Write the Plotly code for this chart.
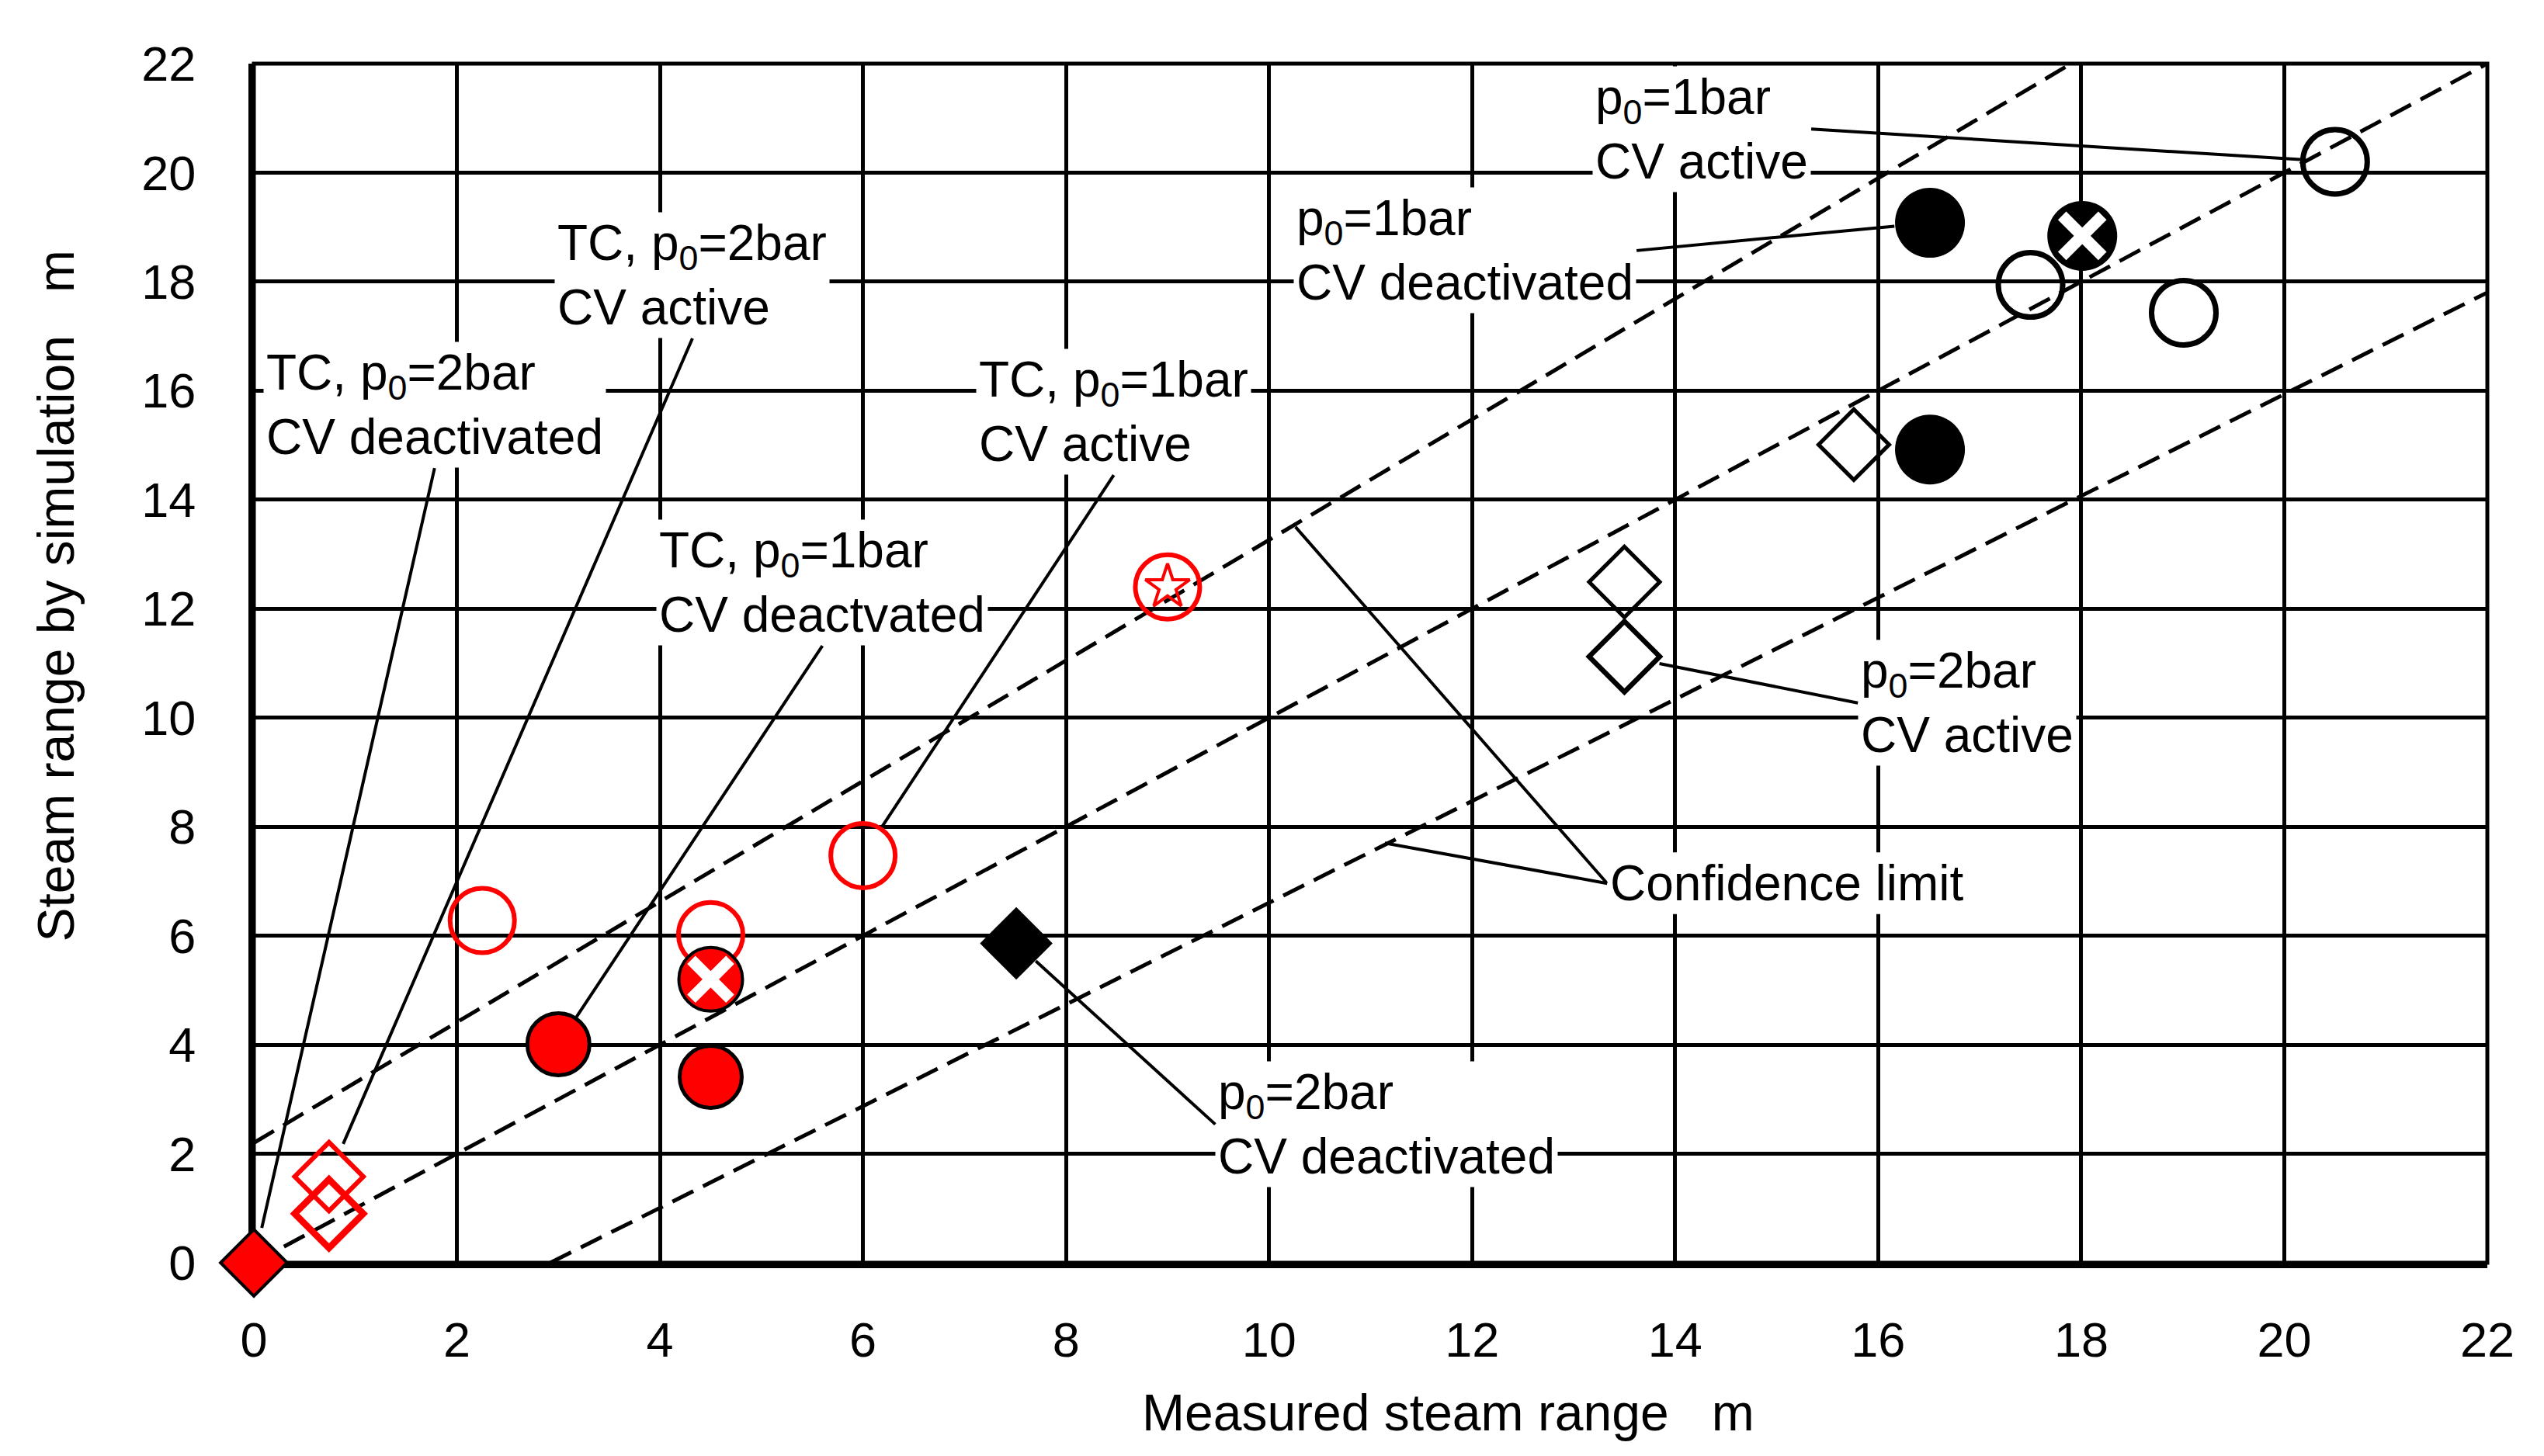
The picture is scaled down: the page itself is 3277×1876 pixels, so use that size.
import plotly.graph_objects as go

FONT = "Liberation Sans, Arial, Helvetica, sans-serif"
RED = "#ff0000"
BLACK = "#000000"
WHITE = "#ffffff"

# ---------------- data (measured steam range x, simulated steam range y) -----
# TC, p0=2bar, CV deactivated (red filled diamond)
tc2_deact_x = [0.0]
tc2_deact_y = [0.0]
# TC, p0=2bar, CV active (red open diamonds)
tc2_act_x = [0.74, 0.74]
tc2_act_y = [1.58, 0.90]
# TC, p0=1bar, CV active (red open circles)
tc1_act_x = [2.25, 4.5, 6.0, 9.0]
tc1_act_y = [6.28, 6.02, 7.47, 12.40]
# red point additionally marked with a star
tc_star_x = [9.0]
tc_star_y = [12.40]
# TC, p0=1bar, CV deactivated (red filled circles)
tc1_deact_x = [3.0, 4.5]
tc1_deact_y = [4.01, 3.41]
# red filled circle with white cross
tc_cross_x = [4.5]
tc_cross_y = [5.20]
# p0=2bar, CV deactivated (black filled diamond)
p2_deact_x = [7.51]
p2_deact_y = [5.86]
# p0=2bar, CV active (black open diamonds)
p2_act_x = [13.5, 13.5, 15.76]
p2_act_y = [12.49, 11.12, 15.01]
# p0=1bar, CV deactivated (black filled circles)
p1_deact_x = [16.51, 16.51]
p1_deact_y = [19.08, 14.92]
# black filled circle with white cross
p1_cross_x = [18.01]
p1_cross_y = [18.84]
# p0=1bar, CV active (black open circles)
p1_act_x = [17.5, 19.01, 20.5]
p1_act_y = [17.94, 17.43, 20.20]
# confidence limits (dashed)
conf_upper_x = [0.0, 17.9]
conf_upper_y = [2.2, 22.0]
conf_mid_x = [0.0, 22.0]
conf_mid_y = [0.0, 22.0]
conf_lower_x = [2.92, 22.0]
conf_lower_y = [0.0, 17.8]

tick_vals = [0, 2, 4, 6, 8, 10, 12, 14, 16, 18, 20, 22]
tick_text = [str(v) for v in tick_vals]

fig = go.Figure()

for cx, cy in [(conf_upper_x, conf_upper_y), (conf_mid_x, conf_mid_y), (conf_lower_x, conf_lower_y)]:
    fig.add_trace(go.Scatter(x=cx, y=cy, mode="lines",
                             line=dict(color=BLACK, width=5, dash="30px,14px"),
                             hoverinfo="skip", showlegend=False, cliponaxis=True))


def markers(x, y, symbol, color, size, lw=0, lc=BLACK):
    fig.add_trace(go.Scatter(
        x=x, y=y, mode="markers", cliponaxis=False, showlegend=False,
        marker=dict(symbol=symbol, color=color, size=size,
                    line=dict(width=lw, color=lc))))


# red series
markers(tc1_act_x, tc1_act_y, "circle-open", RED, 83, 6)
markers(tc_star_x, tc_star_y, "star-open", RED, 43, 4)
markers(tc2_act_x, tc2_act_y, "diamond-open", RED, 68, [6, 8.5])
markers(tc1_deact_x, tc1_deact_y, "circle", RED, 80, 5, BLACK)
markers(tc_cross_x, tc_cross_y, "circle", RED, 82, 4, BLACK)
markers(tc_cross_x, tc_cross_y, "x-thin-open", WHITE, 50, 15)
markers(tc2_deact_x, tc2_deact_y, "diamond", RED, 66, 4, BLACK)

# black series
markers(p2_deact_x, p2_deact_y, "diamond", BLACK, 72, 0)
markers(p2_act_x, p2_act_y, "diamond-open", BLACK, 70, [5, 6.5, 5])
markers(p1_act_x, p1_act_y, "circle-open", BLACK, 83, 7)
markers(p1_deact_x, p1_deact_y, "circle", BLACK, 90, 0)
markers(p1_cross_x, p1_cross_y, "circle", BLACK, 90, 0)
markers(p1_cross_x, p1_cross_y, "x-thin-open", WHITE, 52, 15)

# ---------------- annotations with leader lines ----------------
ann_font = dict(family=FONT, size=64, color=BLACK)
labels = [
    # text, text anchor position (x, y), anchors, target, standoff
    ("TC, p<sub>0</sub>=2bar<br>CV deactivated", 1.78, 14.58, "center", "bottom",
     tc2_deact_x[0], tc2_deact_y[0], 46),
    ("TC, p<sub>0</sub>=2bar<br>CV active", 4.32, 16.96, "center", "bottom",
     tc2_act_x[0], tc2_act_y[0], 46),
    ("TC, p<sub>0</sub>=1bar<br>CV deactvated", 5.60, 11.32, "center", "bottom",
     tc1_deact_x[0], tc1_deact_y[0], 42),
    ("TC, p<sub>0</sub>=1bar<br>CV active", 8.47, 14.45, "center", "bottom",
     tc1_act_x[2], tc1_act_y[2], 44),
    ("p<sub>0</sub>=1bar<br>CV deactivated", 13.62, 18.57, "right", "middle",
     p1_deact_x[0], p1_deact_y[0], 46),
    ("p<sub>0</sub>=1bar<br>CV active", 15.34, 20.80, "right", "middle",
     p1_act_x[2], p1_act_y[2], 45),
    ("p<sub>0</sub>=2bar<br>CV active", 15.80, 10.27, "left", "middle",
     p2_act_x[1], p2_act_y[1], 46),
    ("p<sub>0</sub>=2bar<br>CV deactivated", 9.47, 2.54, "left", "middle",
     p2_deact_x[0], p2_deact_y[0], 34),
    ("Confidence limit", 13.33, 6.96, "left", "middle", 10.26, 13.50, 0),
    ("Confidence limit", 13.33, 6.96, "left", "middle", 11.14, 7.70, 0),
]

annotations = []
for text, ax, ay, xa, ya, tx, ty, so in labels:
    annotations.append(dict(
        text=text, x=tx, y=ty, xref="x", yref="y", ax=ax, ay=ay,
        axref="x", ayref="y", xanchor=xa, yanchor=ya, align="left",
        showarrow=True, arrowhead=0, arrowwidth=4, arrowcolor=BLACK,
        standoff=so, font=ann_font, bgcolor=WHITE, borderpad=3))

annotations.append(dict(
    text="Measured steam range\u00a0\u00a0\u00a0m", x=0.5347, y=-0.1252,
    xref="paper", yref="paper", xanchor="center", yanchor="middle",
    showarrow=False, font=dict(family=FONT, size=66, color=BLACK)))
annotations.append(dict(
    text="Steam range by simulation\u00a0\u00a0\u00a0m", x=-0.0888, y=0.556,
    xref="paper", yref="paper", xanchor="center", yanchor="middle",
    textangle=-90, showarrow=False, font=dict(family=FONT, size=66, color=BLACK)))

axis_common = dict(
    range=[0, 22], tickmode="array", tickvals=tick_vals, ticktext=tick_text,
    showgrid=True, gridcolor=BLACK, gridwidth=5, zeroline=False,
    showline=True, linecolor=BLACK, linewidth=7, ticks="",
    tickfont=dict(family=FONT, size=63, color=BLACK), layer="below traces",
    fixedrange=True)

fig.update_layout(
    width=3277, height=1876,
    margin=dict(l=319, r=81, t=74, b=257, pad=0),
    paper_bgcolor=WHITE, plot_bgcolor=WHITE,
    xaxis=dict(**axis_common, ticklabelstandoff=38),
    yaxis=dict(**axis_common, ticklabelstandoff=55),
    annotations=annotations,
    shapes=[dict(type="rect", xref="paper", yref="paper", x0=0, x1=1, y0=0, y1=1,
                 line=dict(color=BLACK, width=5), fillcolor="rgba(0,0,0,0)",
                 layer="below")],
    showlegend=False,
    font=dict(family=FONT, color=BLACK),
)

fig.write_html("out.html")
